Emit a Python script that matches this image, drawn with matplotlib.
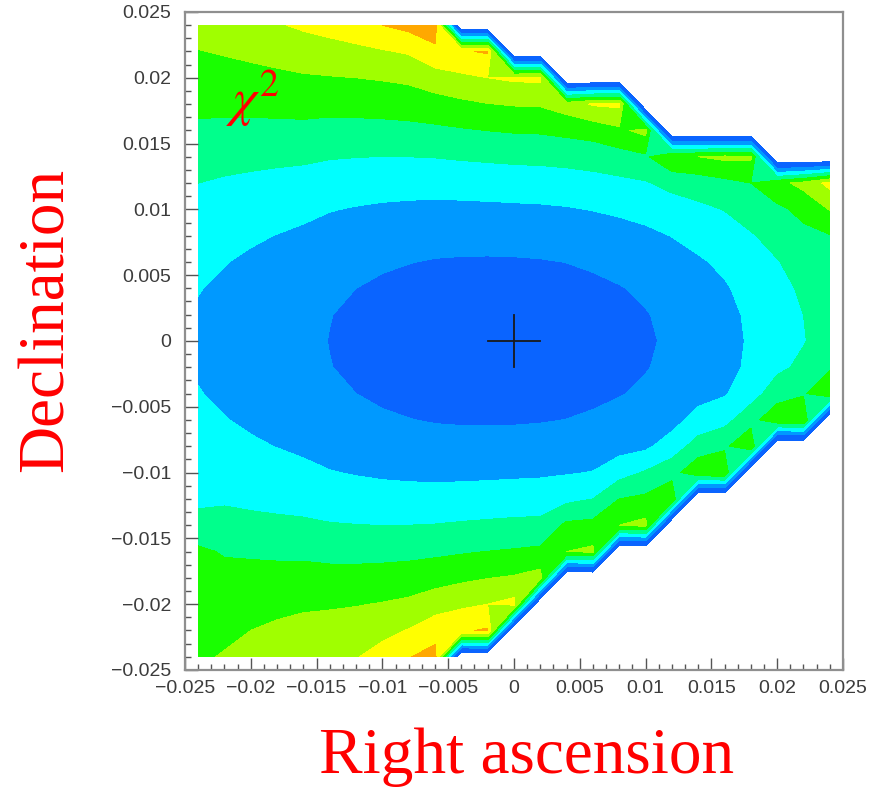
import numpy as np
import matplotlib.pyplot as plt
from matplotlib.ticker import MultipleLocator, FuncFormatter

# bin centres of the scan (degrees offset from the fitted position)
ra = [-0.024, -0.022, -0.020, -0.018, -0.016, -0.014, -0.012, -0.010, -0.008,
      -0.006, -0.004, -0.002, 0.000, 0.002, 0.004, 0.006, 0.008, 0.010,
      0.012, 0.014, 0.016, 0.018, 0.020, 0.022, 0.024]
dec = [0.024, 0.022, 0.020, 0.018, 0.016, 0.014, 0.012, 0.010, 0.008,
       0.006, 0.004, 0.002, 0.000, -0.002, -0.004, -0.006, -0.008, -0.010,
       -0.012, -0.014, -0.016, -0.018, -0.020, -0.022, -0.024]

# chi2 per bin, one row per dec bin (top row first); 0 = bin not filled
chi2 = [
    [7.35, 7.50, 7.70, 7.92, 8.15, 8.35, 8.60, 9.00, 9.30, 9.60, 0, 0, 0, 0, 0, 0, 0, 0, 0, 0, 0, 0, 0, 0, 0],
    [6.97, 7.07, 7.20, 7.35, 7.50, 7.62, 7.75, 7.92, 8.10, 8.75, 8.90, 9.10, 0, 0, 0, 0, 0, 0, 0, 0, 0, 0, 0, 0, 0],
    [6.62, 6.66, 6.72, 6.80, 6.90, 6.95, 7.00, 7.08, 7.20, 7.55, 7.80, 8.00, 8.16, 8.20, 0, 0, 0, 0, 0, 0, 0, 0, 0, 0, 0],
    [6.25, 6.23, 6.25, 6.28, 6.33, 6.30, 6.33, 6.38, 6.45, 6.60, 6.80, 6.97, 7.07, 7.10, 7.50, 8.10, 8.20, 0, 0, 0, 0, 0, 0, 0, 0],
    [5.80, 5.77, 5.76, 5.76, 5.76, 5.69, 5.69, 5.70, 5.74, 5.81, 5.91, 6.01, 6.09, 6.12, 6.25, 6.40, 6.80, 7.30, 0, 0, 0, 0, 0, 0, 0],
    [5.37, 5.30, 5.25, 5.20, 5.16, 5.06, 5.02, 4.99, 5.00, 5.03, 5.10, 5.16, 5.22, 5.25, 5.32, 5.42, 5.60, 5.85, 6.90, 7.00, 7.20, 7.15, 0, 0, 0],
    [5.00, 4.89, 4.80, 4.72, 4.64, 4.51, 4.43, 4.38, 4.36, 4.35, 4.39, 4.43, 4.47, 4.50, 4.56, 4.66, 4.78, 4.92, 5.30, 5.50, 5.75, 6.00, 6.70, 7.30, 8.30],
    [4.68, 4.54, 4.42, 4.31, 4.20, 4.04, 3.94, 3.86, 3.81, 3.78, 3.79, 3.81, 3.84, 3.87, 3.93, 4.03, 4.15, 4.30, 4.50, 4.77, 5.03, 5.40, 5.80, 6.25, 7.05],
    [4.42, 4.26, 4.11, 3.98, 3.84, 3.66, 3.54, 3.44, 3.36, 3.31, 3.30, 3.30, 3.32, 3.35, 3.42, 3.52, 3.64, 3.80, 4.02, 4.28, 4.55, 4.92, 5.32, 5.77, 5.95],
    [4.22, 4.03, 3.87, 3.71, 3.56, 3.36, 3.22, 3.10, 3.02, 2.95, 2.92, 2.91, 2.92, 2.95, 3.01, 3.11, 3.24, 3.40, 3.62, 3.89, 4.17, 4.55, 4.95, 5.40, 5.72],
    [4.03, 3.88, 3.70, 3.53, 3.36, 3.15, 3.00, 2.87, 2.77, 2.69, 2.65, 2.63, 2.63, 2.66, 2.73, 2.83, 2.96, 3.12, 3.34, 3.62, 3.91, 4.30, 4.70, 5.15, 5.58],
    [3.93, 3.78, 3.59, 3.42, 3.24, 3.02, 2.86, 2.73, 2.62, 2.53, 2.48, 2.46, 2.46, 2.49, 2.56, 2.66, 2.79, 2.96, 3.18, 3.45, 3.75, 4.15, 4.55, 5.00, 5.45],
    [3.90, 3.75, 3.56, 3.38, 3.20, 2.98, 2.82, 2.68, 2.57, 2.48, 2.43, 2.40, 2.40, 2.43, 2.50, 2.60, 2.73, 2.90, 3.12, 3.40, 3.70, 4.10, 4.50, 4.95, 5.40],
    [3.93, 3.78, 3.59, 3.42, 3.24, 3.02, 2.86, 2.73, 2.62, 2.53, 2.48, 2.46, 2.46, 2.49, 2.56, 2.66, 2.79, 2.96, 3.18, 3.45, 3.75, 4.15, 4.80, 5.20, 5.90],
    [4.03, 3.88, 3.70, 3.53, 3.36, 3.15, 3.00, 2.87, 2.77, 2.69, 2.65, 2.63, 2.63, 2.66, 2.73, 2.83, 2.96, 3.12, 3.34, 3.62, 3.91, 4.60, 5.50, 5.90, 6.80],
    [4.22, 4.03, 3.87, 3.71, 3.56, 3.36, 3.22, 3.10, 3.02, 2.95, 2.92, 2.91, 2.92, 2.95, 3.01, 3.11, 3.24, 3.40, 3.62, 4.40, 4.70, 5.60, 6.80, 7.00, 0],
    [4.42, 4.26, 4.11, 3.98, 3.84, 3.66, 3.54, 3.44, 3.36, 3.31, 3.30, 3.30, 3.32, 3.35, 3.42, 3.52, 3.64, 3.80, 4.50, 5.40, 5.80, 6.90, 0, 0, 0],
    [4.68, 4.54, 4.42, 4.31, 4.20, 4.04, 3.94, 3.86, 3.81, 3.78, 3.79, 3.81, 3.84, 3.87, 3.93, 4.03, 4.60, 5.10, 5.60, 6.80, 7.00, 0, 0, 0, 0],
    [4.85, 4.89, 4.80, 4.72, 4.64, 4.51, 4.43, 4.38, 4.36, 4.35, 4.39, 4.43, 4.47, 4.50, 4.75, 5.00, 6.00, 6.20, 6.90, 0, 0, 0, 0, 0, 0],
    [5.25, 5.30, 5.25, 5.20, 5.16, 5.06, 5.02, 4.99, 5.00, 5.03, 5.10, 5.16, 5.22, 5.25, 6.20, 6.30, 7.00, 7.30, 0, 0, 0, 0, 0, 0, 0],
    [6.20, 5.90, 5.85, 5.80, 5.78, 5.70, 5.69, 5.70, 5.74, 5.81, 5.91, 6.01, 6.09, 6.20, 7.00, 7.20, 0, 0, 0, 0, 0, 0, 0, 0, 0],
    [6.35, 6.35, 6.35, 6.35, 6.38, 6.33, 6.33, 6.38, 6.45, 6.60, 6.80, 6.97, 7.10, 7.40, 0, 0, 0, 0, 0, 0, 0, 0, 0, 0, 0],
    [6.55, 6.62, 6.70, 6.78, 6.88, 6.90, 6.95, 7.05, 7.20, 7.55, 7.80, 8.00, 8.30, 0, 0, 0, 0, 0, 0, 0, 0, 0, 0, 0, 0],
    [6.75, 6.85, 7.00, 7.15, 7.25, 7.35, 7.50, 7.75, 8.05, 8.60, 8.90, 9.10, 0, 0, 0, 0, 0, 0, 0, 0, 0, 0, 0, 0, 0],
    [6.90, 7.05, 7.15, 7.30, 7.50, 7.70, 7.95, 8.35, 8.95, 9.35, 0, 0, 0, 0, 0, 0, 0, 0, 0, 0, 0, 0, 0, 0, 0],
]

levels = [1.6, 3, 4, 5, 6, 7, 8, 9, 20]
palette = ['#0a64ff', '#0099ff', '#00ffff', '#00ff8c',
           '#19ff00', '#a0ff00', '#ffff00', '#ffa800']

best_fit = (0.0, 0.0)
cross_half = 0.002

fig = plt.figure(figsize=(8.73, 7.87), dpi=100)
ax = fig.add_axes([0.2119, 0.1487, 0.7537, 0.8361])

X, Y = np.meshgrid(ra, dec)
Z = np.array(chi2)
ax.contourf(X, Y, Z, levels=levels, colors=palette, antialiased=True)
ax.contourf(X, Y, Z, levels=levels, colors=palette, antialiased=False)

# best fit marker
ax.plot([best_fit[0] - cross_half, best_fit[0] + cross_half], [best_fit[1]] * 2,
        color='#1a1a1a', lw=1.3)
ax.plot([best_fit[0]] * 2, [best_fit[1] - cross_half, best_fit[1] + cross_half],
        color='#1a1a1a', lw=1.3)

ax.set_xlim(-0.025, 0.025)
ax.set_ylim(-0.025, 0.025)

for side in ax.spines.values():
    side.set_color('#8f8f8f')
    side.set_linewidth(1.6)


def fmt(v, pos):
    if abs(v) < 1e-9:
        return '0'
    return ('%g' % round(v, 4)).replace('-', '\u2212')


for axis in (ax.xaxis, ax.yaxis):
    axis.set_major_locator(MultipleLocator(0.005))
    axis.set_minor_locator(MultipleLocator(0.001))
    axis.set_major_formatter(FuncFormatter(fmt))

ax.tick_params(which='both', direction='in', color='#555555', width=1.0,
               labelcolor='#3c3c3c', labelsize=14)
ax.tick_params(which='major', length=9, pad=10)
ax.tick_params(which='minor', length=4.5)
ax.tick_params(axis='x', pad=7)
for lab in ax.get_xticklabels() + ax.get_yticklabels():
    lab.set_family('Liberation Sans')

plt.rcParams['mathtext.fontset'] = 'stix'
ax.text(-0.0219, 0.0171, r'$\chi^{2}$', color='red', fontsize=39,
        ha='left', va='baseline')

fig.text(527 / 873, 1 - 757 / 787, 'Right ascension', color='red',
         family='Liberation Serif', fontsize=47, ha='center', va='center')
fig.text(47 / 873, 1 - 320 / 787, 'Declination', color='red',
         family='Liberation Serif', fontsize=47, rotation=90,
         ha='center', va='center')

fig.savefig('out.png', dpi=100)
